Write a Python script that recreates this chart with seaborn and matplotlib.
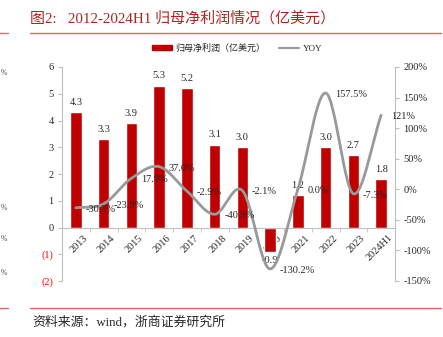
import numpy as np
import pandas as pd
import matplotlib
matplotlib.use('Agg')
import matplotlib.pyplot as plt
import seaborn as sns
from matplotlib.patches import Patch
from matplotlib.lines import Line2D
from matplotlib.ticker import FixedLocator

years = ['2013', '2014', '2015', '2016', '2017', '2018', '2019', '2020', '2021', '2022', '2023', '2024H1']
profit = [4.3, 3.3, 3.9, 5.3, 5.2, 3.1, 3.0, -0.9, 1.2, 3.0, 2.7, 1.8]
profit_labels = ['4.3', '3.3', '3.9', '5.3', '5.2', '3.1', '3.0', '-0.9', '1.2', '3.0', '2.7', '1.8']
yoy = [-30.3, -23.9, 17.9, 37.0, -2.9, -40.9, -2.1, -130.2, 0.0, 157.5, -7.3, 121.0]
yoy_labels = ['-30.3%', '-23.9%', '17.9%', '37.0%', '-2.9%', '-40.9%', '-2.1%', '-130.2%', '0.0%', '157.5%', '-7.3%', '121%']
left_ticks = [-2, -1, 0, 1, 2, 3, 4, 5, 6]
left_tick_labels = ['(2)', '(1)', '0', '1', '2', '3', '4', '5', '6']
right_ticks = [-150, -100, -50, 0, 50, 100, 150, 200]
right_tick_labels = ['-150%', '-100%', '-50%', '0%', '50%', '100%', '150%', '200%']

sns.set_style('white')
plt.rcParams['font.family'] = ['Liberation Serif', 'Noto Sans CJK SC']

BAR = '#C00000'
GRAY = '#999999'
AX = '#BFBFBF'

fig = plt.figure(figsize=(4.43, 3.37), dpi=100)
ax = fig.add_axes([62/443, 1-281/337, (395-62)/443, (281-67)/337])

df = pd.DataFrame({'year': years, 'profit': profit})
sns.barplot(data=df, x='year', y='profit', color=BAR, saturation=1, width=0.42, ax=ax, errorbar=None)
ax.set_xlabel('')
ax.set_ylabel('')

ax2 = ax.twinx()

# smooth line (Catmull-Rom through the data points)
x = np.arange(len(yoy), dtype=float)
y = np.array(yoy, dtype=float)
px = np.concatenate([[2*x[0]-x[1]], x, [2*x[-1]-x[-2]]])
py = np.concatenate([[2*y[0]-y[1]], y, [2*y[-1]-y[-2]]])
sx, sy = [], []
t = np.linspace(0, 1, 30)
for i in range(1, len(px)-2):
    p0, p1, p2, p3 = py[i-1], py[i], py[i+1], py[i+2]
    q0, q1, q2, q3 = px[i-1], px[i], px[i+1], px[i+2]
    cy = 0.5*((2*p1) + (-p0+p2)*t + (2*p0-5*p1+4*p2-p3)*t**2 + (-p0+3*p1-3*p2+p3)*t**3)
    cx = 0.5*((2*q1) + (-q0+q2)*t + (2*q0-5*q1+4*q2-q3)*t**2 + (-q0+3*q1-3*q2+q3)*t**3)
    sx.extend(cx); sy.extend(cy)
smooth = pd.DataFrame({'x': sx, 'y': sy})
sns.lineplot(data=smooth, x='x', y='y', color=GRAY, lw=2, ax=ax2, sort=False, estimator=None)
ax2.set_xlabel('')
ax2.set_ylabel('')

ax.set_xlim(-0.5, len(years)-0.5)
ax.set_ylim(-2, 6)
ax2.set_ylim(-150, 200)

# left axis
ax.set_yticks(left_ticks)
ax.set_yticklabels(left_tick_labels, fontsize=7.5)
for lab in ax.get_yticklabels():
    if lab.get_text().startswith('('):
        lab.set_color('#FF0000')
ax.tick_params(axis='y', length=3, color=AX, pad=3, left=True)
ax.spines['left'].set_color(AX)
ax.spines['top'].set_visible(False)
ax.spines['right'].set_visible(False)
ax.spines['bottom'].set_position(('data', 0))
ax.spines['bottom'].set_color(AX)

# x axis ticks at boundaries
ax.set_xticks(range(len(years)))
ax.set_xticklabels(years, fontsize=7.5, rotation=45, ha='right', rotation_mode='anchor')
ax.tick_params(axis='x', which='major', length=0, pad=4)
ax.xaxis.set_minor_locator(FixedLocator(np.arange(-0.5, len(years), 1.0)))
ax.tick_params(axis='x', which='minor', length=3, color=AX, bottom=True, direction='out')
for lab in ax.get_xticklabels():
    lab.set_transform(lab.get_transform() + matplotlib.transforms.ScaledTranslation(7/100, 0, fig.dpi_scale_trans))

# right axis
ax2.set_yticks(right_ticks)
ax2.set_yticklabels(right_tick_labels, fontsize=7.5)
ax2.tick_params(axis='y', length=3, color=AX, pad=3, right=True)
for s in ['top', 'left', 'bottom']:
    ax2.spines[s].set_visible(False)
ax2.spines['right'].set_color(AX)

# bar labels
for i, v in enumerate(profit):
    if v >= 0:
        ax.annotate(profit_labels[i], (i, v), xytext=(0, 4), textcoords='offset points',
                    ha='center', va='bottom', fontsize=7.5)
    else:
        ax.annotate(profit_labels[i], (i, v), xytext=(0, -3), textcoords='offset points',
                    ha='center', va='top', fontsize=7.5)

# yoy labels
for i, v in enumerate(yoy):
    ax2.annotate(yoy_labels[i], (i, v), xytext=(7, -1), textcoords='offset points',
                 ha='left', va='center', fontsize=7.5)

# legend
handles = [Patch(facecolor=BAR, edgecolor=BAR), Line2D([0], [0], color=GRAY, lw=1.5)]
fig.legend(handles, ['归母净利润（亿美元）', 'YOY'], loc='center', bbox_to_anchor=(237/443, 1-48/337),
           ncol=2, frameon=False, fontsize=6.5, handlelength=2.2, handleheight=0.5, columnspacing=1.5,
           handletextpad=0.4)

# title, rules, source
fig.text(30/443, 1-18/337, '图2:   2012-2024H1 归母净利润情况（亿美元）', color='#B22222',
         fontsize=10.8, va='center', ha='left')
RED = '#E06666'
for yy in (33, 308):
    fig.add_artist(Line2D([30/443, 441/443], [1-yy/337]*2, color=RED, lw=1))
    fig.add_artist(Line2D([0, 8/443], [1-yy/337]*2, color=RED, lw=1))
fig.text(32/443, 1-322/337, '资料来源：wind，浙商证券研究所', fontsize=9.3, va='center', ha='left')

# fragments of neighbouring chart at the left edge
for yy in (73, 208, 239, 273):
    fig.text(0.5/443, 1-yy/337, '%', fontsize=5.5, va='center', ha='left', color='#555555')

fig.savefig('out.png', dpi=100)
